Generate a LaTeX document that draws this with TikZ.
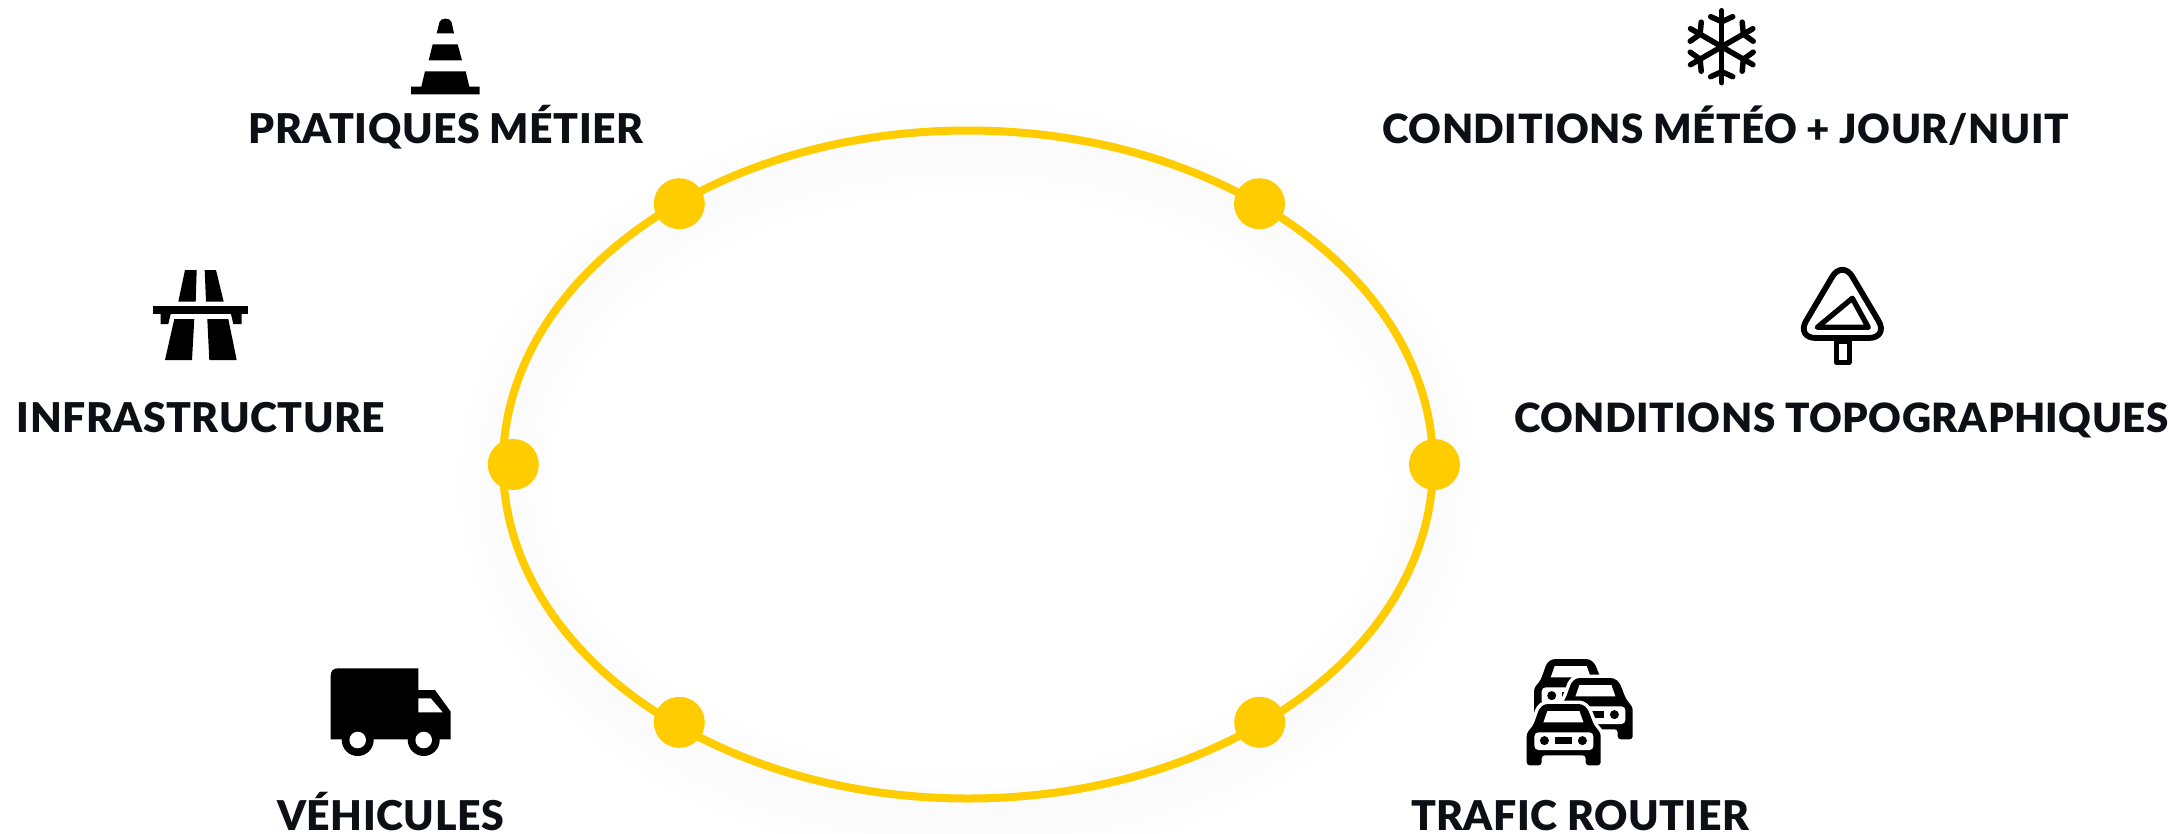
\documentclass[tikz,border=0pt]{standalone}
\usepackage{fontspec}
\setmainfont[LetterSpace=1.2]{Lato Black}
\usetikzlibrary{positioning}
\definecolor{jaune}{RGB}{255,204,0}
\definecolor{encre}{RGB}{12,16,20}
\tikzset{
  dot/.style={circle, fill=jaune, draw=none, minimum size=51pt, inner sep=0pt},
  titre/.style={text=encre, font=\fontsize{41pt}{43pt}\selectfont, inner sep=0pt, anchor=base},
  titrelong/.style={titre, font=\fontsize{40.3pt}{43pt}\selectfont},
  voiture/.pic={
    \fill[black, rounded corners=3pt, preaction={draw=white, line width=7pt}]
      (0,30) -- (6.7,21.7) -- (12.7,5) -- (18,0.7) -- (55,0.7) -- (60.7,5) -- (67.3,21.7) -- (74,30) -- (74,62) -- (59,62) -- (59,52) -- (15,52) -- (15,62) -- (0,62) -- cycle;
    \fill[white] (20.7,7.7) -- (52.7,7.7) -- (56.7,19) -- (16.7,19) -- cycle;
    \fill[white, rounded corners=4pt] (7.7,29) rectangle (66.7,46.7);
    \fill[black] (17.7,37.3) circle (4.5) (55.7,37.3) circle (4.5);
    \fill[black] (28.3,34) rectangle (45,40.7);
  },
}
\begin{document}
\begin{tikzpicture}[x=1pt,y=-1pt]
\useasboundingbox (0,0) rectangle (2174,833);
% ombre
\foreach \w in {90,70,50,30}
  \draw[black, opacity=0.005, line width=\w pt] (969,482) ellipse[x radius=465, y radius=334];
% anneau
\draw[jaune, line width=8pt] (968,464.5) ellipse[x radius=465, y radius=334];
\node[dot] (d1) at (679.3,203.7) {};
\node[dot] (d2) at (1259.5,203.7) {};
\node[dot] (d3) at (513.3,464.5) {};
\node[dot] (d4) at (1434.5,464.5) {};
\node[dot] (d5) at (679.3,722.3) {};
\node[dot] (d6) at (1259.7,722.3) {};
% textes
\node[titre] (t1) at (446,143.5) {PRATIQUES MÉTIER};
\node[titrelong] (t2) at (1725.5,143.5) {CONDITIONS MÉTÉO + JOUR/NUIT};
\node[titre] (t3) at (201,432) {INFRASTRUCTURE};
\node[titrelong] (t4) at (1841.5,432) {CONDITIONS TOPOGRAPHIQUES};
\node[titre] (t5) at (390.5,830.5) {VÉHICULES};
\node[titre] (t6) at (1580,830.5) {TRAFIC ROUTIER};
% cone
\fill[black] (436.7,33.3) -- (439.5,22) .. controls (440.5,17.5) and (450.5,17.5) .. (451.5,22) -- (454,33.3) -- cycle;
\fill[black] (428.7,60.3) -- (432.7,44.3) -- (457.7,44.3) -- (462,60.3) -- cycle;
\fill[black] (421.3,86.7) -- (425,71.3) -- (465.7,71.3) -- (469.3,86.7) -- (479.7,86.7) -- (479.7,94.3) -- (411,94.3) -- (411,86.7) -- cycle;
% neige
\begin{scope}[shift={(1721.7,46.7)}, line width=5.5pt, line cap=round, black]
\foreach \a in {30,90,150,210,270,330} {
  \draw[rotate=\a] (0,0) -- (36,0);
  \draw[rotate=\a] (25,0) -- (30,-11);
  \draw[rotate=\a] (25,0) -- (30,11);
}
\end{scope}
% panneau
\draw[black, line width=5.8pt, rounded corners=20pt] (1842.3,259.7) -- (1888.7,338) -- (1796,338) -- cycle;
\draw[black, line width=5.3pt, line join=round] (1852.3,298.3) -- (1868.3,327.3) -- (1817.3,327.3) -- cycle;
\draw[black, line width=5pt, line join=round] (1836.7,341) rectangle (1849,362.3);
% autoroute
\fill[black] (178.3,301.7) -- (185,270) -- (196.7,270) -- (195.7,301.7) -- cycle;
\fill[black] (204.7,270) -- (216,270) -- (223.7,301.7) -- (206,301.7) -- cycle;
\fill[black] (153.3,306) rectangle (248.3,314);
\fill[black] (160.7,314) -- (160.7,324) -- (168.3,324) -- (170.7,314) -- cycle;
\fill[black] (241.7,314) -- (241.7,324) -- (233.3,324) -- (231,314) -- cycle;
\fill[black] (165,360) -- (174.3,319) -- (194.3,319) -- (192,360) -- cycle;
\fill[black] (207.3,319) -- (228.3,319) -- (236.7,360) -- (209.3,360) -- cycle;
% vehicule
\fill[black] (330.7,739.3) -- (330.7,676) .. controls (330.7,671) and (333,668.3) .. (338,668.3) -- (418.3,668.3) -- (418.3,690) -- (435,690) -- (450.7,711.7) -- (450.7,739.3) -- cycle;
\fill[white] (418.3,698.3) -- (430.7,698.3) -- (442.7,712.3) -- (418.3,712.3) -- cycle;
\fill[black] (357.7,740) circle (16) (423.7,740) circle (16);
\fill[white] (357.7,740) circle (8.3) (423.7,740) circle (8.3);
% trafic
\pic at (1534,658.3) {voiture};
\pic at (1558.7,677.3) {voiture};
\pic at (1526.7,703.3) {voiture};
\end{tikzpicture}
\end{document}
